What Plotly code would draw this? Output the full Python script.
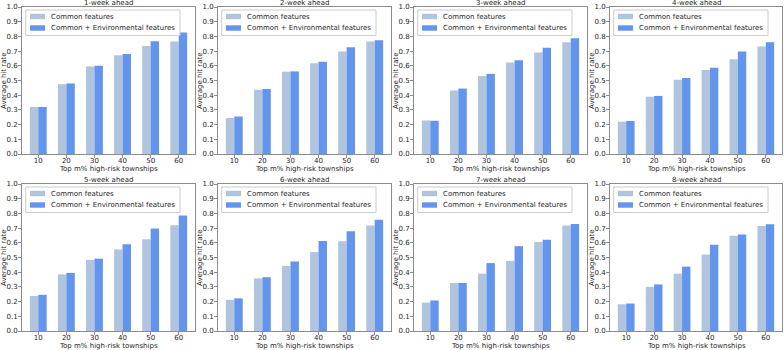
import plotly.graph_objects as go
from plotly.subplots import make_subplots

categories = [10, 20, 30, 40, 50, 60]
titles = ["1-week ahead", "2-week ahead", "3-week ahead", "4-week ahead",
          "5-week ahead", "6-week ahead", "7-week ahead", "8-week ahead"]
series_names = ["Common features", "Common + Environmental features"]
x_title = "Top m% high-risk townships"
y_title = "Average hit rate"

common = [
    [0.320, 0.475, 0.595, 0.672, 0.735, 0.765],
    [0.245, 0.437, 0.560, 0.617, 0.698, 0.765],
    [0.228, 0.432, 0.530, 0.622, 0.690, 0.760],
    [0.220, 0.390, 0.505, 0.572, 0.645, 0.732],
    [0.238, 0.385, 0.484, 0.555, 0.625, 0.720],
    [0.212, 0.358, 0.442, 0.537, 0.610, 0.718],
    [0.193, 0.327, 0.390, 0.477, 0.605, 0.718],
    [0.182, 0.300, 0.390, 0.520, 0.648, 0.715],
]
environmental = [
    [0.320, 0.480, 0.600, 0.680, 0.767, 0.826],
    [0.255, 0.442, 0.562, 0.628, 0.727, 0.773],
    [0.226, 0.445, 0.545, 0.637, 0.722, 0.787],
    [0.225, 0.395, 0.517, 0.587, 0.697, 0.760],
    [0.246, 0.395, 0.492, 0.590, 0.698, 0.785],
    [0.222, 0.366, 0.473, 0.612, 0.678, 0.757],
    [0.208, 0.327, 0.462, 0.577, 0.620, 0.728],
    [0.187, 0.317, 0.438, 0.587, 0.657, 0.727],
]
y_ticks = [0.0, 0.1, 0.2, 0.3, 0.4, 0.5, 0.6, 0.7, 0.8, 0.9, 1.0]

W, H = 784, 350
COLORS = ["#b0c4de", "#6495ed"]
FONT = "DejaVu Sans"
FS = 7
TXT = "#262626"
AX = "#8c8c8c"

x_px = [(22, 195), (218, 391), (414, 587), (610, 782)]
y_px = [(7, 154), (184, 331)]

fig = make_subplots(rows=2, cols=4)

for i in range(8):
    r, c = i // 4, i % 4
    for s, vals in enumerate([common[i], environmental[i]]):
        fig.add_trace(go.Bar(x=categories, y=vals, name=series_names[s],
                             marker=dict(color=COLORS[s], line=dict(width=0)),
                             showlegend=False, hoverinfo="x+y+name"),
                      row=r + 1, col=c + 1)

def px_x(p):
    return p / W

def px_y(p):
    return 1 - p / H

layout_updates = {}
annotations = []
shapes = []
for i in range(8):
    r, c = i // 4, i % 4
    n = "" if i == 0 else str(i + 1)
    x0, x1 = x_px[c]
    y0, y1 = y_px[r]
    layout_updates[f"xaxis{n}"] = dict(
        domain=[px_x(x0), px_x(x1)], range=[4.2, 65.8], tickvals=categories,
        ticktext=[str(v) for v in categories], automargin=False,
        showline=True, linecolor=AX, linewidth=1, mirror=True,
        ticks="outside", ticklen=3, tickcolor=AX, showgrid=False, zeroline=False,
        ticklabelstandoff=-3,
        tickfont=dict(family=FONT, size=FS, color=TXT))
    layout_updates[f"yaxis{n}"] = dict(
        domain=[px_y(y1), px_y(y0)], range=[0, 1.0], tickvals=y_ticks,
        tickformat=".1f", automargin=False,
        showline=True, linecolor=AX, linewidth=1, mirror=True,
        ticks="outside", ticklen=3, tickcolor=AX, showgrid=False, zeroline=False,
        ticklabelstandoff=-1,
        tickfont=dict(family=FONT, size=FS, color=TXT))
    # subplot title
    annotations.append(dict(
        text=titles[i], x=px_x((x0 + x1) / 2), y=px_y(y0 - 4.2),
        xref="paper", yref="paper", xanchor="center", yanchor="middle",
        showarrow=False, font=dict(family=FONT, size=FS, color=TXT)))
    # x axis title
    annotations.append(dict(
        text=x_title, x=px_x((x0 + x1) / 2), y=px_y(y1 + 15),
        xref="paper", yref="paper", xanchor="center", yanchor="middle",
        showarrow=False, font=dict(family=FONT, size=FS, color=TXT)))
    # y axis title
    annotations.append(dict(
        text=y_title, x=px_x(x0 - 18.5), y=px_y((y0 + y1) / 2),
        xref="paper", yref="paper", xanchor="center", yanchor="middle",
        textangle=-90, showarrow=False,
        font=dict(family=FONT, size=FS, color=TXT)))
    # legend frame
    shapes.append(dict(
        type="rect", xref="paper", yref="paper",
        x0=px_x(x0 + 3.7), x1=px_x(x0 + 158), y0=px_y(y0 + 3), y1=px_y(y0 + 28.5),
        line=dict(color="#cccccc", width=1), fillcolor="rgba(255,255,255,0.8)",
        layer="above"))
    for s in range(2):
        yc = y0 + 9.5 + s * 11.5
        shapes.append(dict(
            type="rect", xref="paper", yref="paper",
            x0=px_x(x0 + 8), x1=px_x(x0 + 23), y0=px_y(yc + 2.7), y1=px_y(yc - 2.7),
            line=dict(width=0), fillcolor=COLORS[s], layer="above"))
        annotations.append(dict(
            text=series_names[s], x=px_x(x0 + 27.3), y=px_y(yc),
            xref="paper", yref="paper", xanchor="left", yanchor="middle",
            showarrow=False, font=dict(family=FONT, size=FS, color=TXT)))

fig.update_layout(**layout_updates)
fig.update_layout(
    width=W, height=H, margin=dict(l=0, r=0, t=0, b=0, autoexpand=False),
    paper_bgcolor="white", plot_bgcolor="white",
    barmode="group", bargap=0.4, bargroupgap=0,
    annotations=annotations, shapes=shapes, showlegend=False,
    font=dict(family=FONT, size=FS, color=TXT),
)

fig.write_html("out.html",
               config={"displayModeBar": False},
               post_script="document.body.style.margin='0';"
                           "document.body.style.padding='0';"
                           "document.body.style.overflow='hidden';")
